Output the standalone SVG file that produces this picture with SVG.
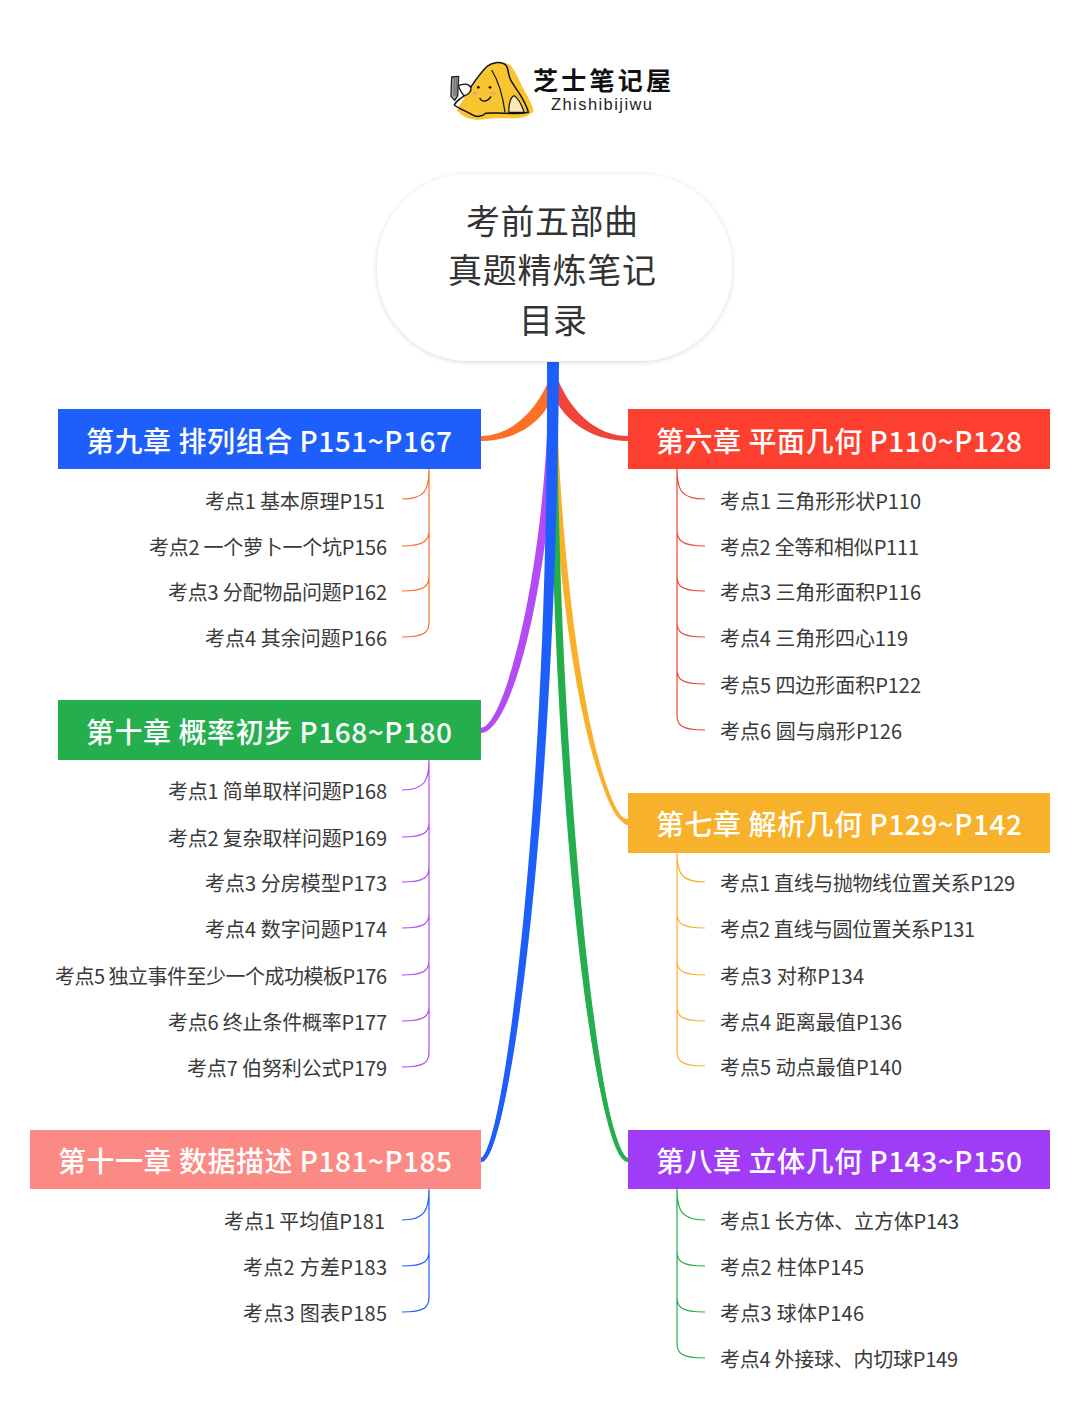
<svg xmlns="http://www.w3.org/2000/svg" width="1080" height="1404" viewBox="0 0 1080 1404">
<defs>
<filter id="sh" x="-10%" y="-10%" width="120%" height="125%"><feDropShadow dx="0" dy="1" stdDeviation="2.5" flood-color="#000" flood-opacity="0.16"/></filter>
</defs>
<style>
text{font-family:"Noto Sans CJK SC","Noto Sans",sans-serif}
.t{font-size:28px;fill:#fff;font-weight:500}
.s{font-size:20px;fill:#3a3a3a}
.r{font-size:34px;fill:#333;text-anchor:middle}
.b{fill:none;stroke-width:1.2}
.m{fill-rule:nonzero;stroke-width:4.5}
.o{stroke:#fb6f26}.p{stroke:#b44cf5}.bl{stroke:#1e5ffb}.re{stroke:#f0443a}.y{stroke:#f8b12a}.g{stroke:#25ae4e}
</style>
<rect width="1080" height="1404" fill="#fff"/>
<g id="logo" transform="translate(445 55) scale(.3333)">
<path d="M35 165C55 130 80 100 115 45C140 22 175 18 195 30C215 50 225 85 240 110C252 130 262 150 266 168C250 188 225 190 200 190C170 190 145 188 125 192C95 198 60 195 35 165Z" fill="#f8c531"/>
<path d="M75 100C88 80 105 55 125 35C145 20 170 18 182 30C192 40 188 55 195 70C200 85 218 105 232 130C240 145 248 160 250 172C225 178 205 175 185 175C160 175 140 172 122 175C112 185 95 188 80 178C62 168 40 160 28 150C35 135 50 130 58 122" fill="none" stroke="#111" stroke-width="4.5" stroke-linejoin="round" stroke-linecap="round"/>
<path d="M40 92C55 85 72 85 78 98C80 110 68 120 58 122C50 115 45 105 40 92Z" fill="#fff" stroke="#111" stroke-width="4"/>
<path d="M20 66L41 64L38 122L29 136L18 124Z" fill="#a8a8a8" stroke="#222" stroke-width="4" stroke-linejoin="round"/>
<path d="M28 68L27 122M34 68L33 122" fill="none" stroke="#333" stroke-width="2"/>
<path d="M140 45C158 75 172 110 180 172" fill="none" stroke="#111" stroke-width="3.5"/>
<path d="M192 172C190 145 198 125 208 122C222 130 230 150 238 172Z" fill="#f7e8b4" stroke="#111" stroke-width="3.5"/>
<circle cx="100" cy="97" r="4" fill="#111"/><circle cx="135" cy="97" r="4" fill="#111"/>
<ellipse cx="91" cy="115" rx="8" ry="4.5" fill="#f4a07a"/><ellipse cx="144" cy="115" rx="8" ry="4.5" fill="#f4a07a"/>
<path d="M104 129C110 142 128 142 138 124" fill="none" stroke="#111" stroke-width="4"/>
</g>
<text x="533" y="90" font-size="25" font-weight="700" fill="#111" textLength="138">芝士笔记屋</text>
<text x="551" y="110" font-size="16.5" fill="#222" textLength="101" style="font-family:'Liberation Sans',sans-serif">Zhishibijiwu</text>
<g id="connectors">
<path d="M550 362C552 620 595 819 628 819V825C603 825 559 620 556 362Z" fill="#f8b12a"/>
<path d="M553 362C556 620 600 822 628 822" class="b m y" style="stroke-width:4"/>
<path d="M550 362C550 800 594 1158 628 1158V1162C604 1163 557 800 557 362Z" fill="#25ae4e"/>
<path d="M553 362C553 820 600 1160 628 1160" class="b m g"/>
<path d="M549 362C549 560 505 727 481 728V733C514 733 557 560 557 362Z" fill="#b44cf5"/>
<path d="M553 362C553 560 510 730 481 730" class="b m p"/>
<path d="M552 372C538 412 510 436 481 436V441C518 441 547 420 556 388Z" fill="#fb6f26"/>
<path d="M555 372C569 412 597 436 628 436V441C592 441 560 420 551 388Z" fill="#f0443a"/>
<path d="M547 362C549 820 501 1157 481 1158V1162C509 1163 556 820 559 362Z" fill="#1e5ffb"/>
<path d="M553 362C553 820 505 1160 481 1160" class="b m bl"/>
<g class="b o"><path d="M429 469C429 490 425 499 402 499M429 469V530C429 540 425 546 402 546M429 530V576C429 586 425 591 402 591M429 576V622C429 632 425 637 402 637"/></g>
<g class="b p"><path d="M429 760C429 780 425 790 402 790M429 760V822C429 832 425 837 402 837M429 822V867C429 877 425 882 402 882M429 867V913C429 923 425 928 402 928M429 913V960C429 970 425 975 402 975M429 960V1006C429 1016 425 1021 402 1021M429 1006V1052C429 1062 425 1067 402 1067"/></g>
<g class="b bl"><path d="M429 1189C429 1210 425 1220 402 1220M429 1189V1251C429 1261 425 1266 402 1266M429 1251V1297C429 1307 425 1312 402 1312"/></g>
<g class="b re"><path d="M677 469C677 490 681 499 705 499M677 469V530C677 540 681 546 705 546M677 530V576C677 586 681 591 705 591M677 576V622C677 632 681 637 705 637M677 622V669C677 679 681 684 705 684M677 669V715C677 725 681 730 705 730"/></g>
<g class="b y"><path d="M677 853C677 873 681 882 705 882M677 853V913C677 923 681 928 705 928M677 913V960C677 970 681 975 705 975M677 960V1006C677 1016 681 1021 705 1021M677 1006V1051C677 1061 681 1066 705 1066"/></g>
<g class="b g"><path d="M677 1189C677 1210 681 1220 705 1220M677 1189V1251C677 1261 681 1266 705 1266M677 1251V1297C677 1307 681 1312 705 1312M677 1297V1343C677 1353 681 1358 705 1358"/></g>
</g>
<g id="root"><rect x="377" y="174" width="355" height="187" rx="92" ry="92" fill="#fff" filter="url(#sh)"/>
<text class="r" x="552" y="234" textLength="172">考前五部曲</text><text class="r" x="552" y="283" textLength="208">真题精炼笔记</text><text class="r" x="553" y="333">目录</text></g>
<g id="ch9"><rect x="58" y="409" width="423" height="60" fill="#1e5ffb"/><text class="t" x="86" y="452" textLength="366">第九章 排列组合 P151~P167</text>
<text class="s" x="205" y="509" textLength="180">考点1 基本原理P151</text><text class="s" x="149" y="555" textLength="238">考点2 一个萝卜一个坑P156</text><text class="s" x="168" y="600" textLength="219">考点3 分配物品问题P162</text><text class="s" x="205" y="646" textLength="182">考点4 其余问题P166</text></g>
<g id="ch10"><rect x="58" y="700" width="423" height="60" fill="#25ae4e"/><text class="t" x="86" y="743" textLength="366">第十章 概率初步 P168~P180</text>
<text class="s" x="168" y="799" textLength="219">考点1 简单取样问题P168</text><text class="s" x="168" y="846" textLength="219">考点2 复杂取样问题P169</text><text class="s" x="205" y="891" textLength="182">考点3 分房模型P173</text><text class="s" x="205" y="937" textLength="182">考点4 数字问题P174</text><text class="s" x="55" y="984" textLength="332">考点5 独立事件至少一个成功模板P176</text><text class="s" x="168" y="1030" textLength="219">考点6 终止条件概率P177</text><text class="s" x="187" y="1076" textLength="200">考点7 伯努利公式P179</text></g>
<g id="ch11"><rect x="30" y="1130" width="451" height="59" fill="#fb8a84"/><text class="t" x="58" y="1172" textLength="394">第十一章 数据描述 P181~P185</text>
<text class="s" x="224" y="1229" textLength="161">考点1 平均值P181</text><text class="s" x="243" y="1275" textLength="144">考点2 方差P183</text><text class="s" x="243" y="1321" textLength="144">考点3 图表P185</text></g>
<g id="ch6"><rect x="628" y="409" width="422" height="60" fill="#fc3f2e"/><text class="t" x="656" y="452" textLength="366">第六章 平面几何 P110~P128</text>
<text class="s" x="720" y="509" textLength="201">考点1 三角形形状P110</text><text class="s" x="720" y="555" textLength="199">考点2 全等和相似P111</text><text class="s" x="720" y="600" textLength="201">考点3 三角形面积P116</text><text class="s" x="720" y="646" textLength="188">考点4 三角形四心119</text><text class="s" x="720" y="693" textLength="201">考点5 四边形面积P122</text><text class="s" x="720" y="739" textLength="182">考点6 圆与扇形P126</text></g>
<g id="ch7"><rect x="628" y="793" width="422" height="60" fill="#f8b12a"/><text class="t" x="656" y="835" textLength="366">第七章 解析几何 P129~P142</text>
<text class="s" x="720" y="891" textLength="295">考点1 直线与抛物线位置关系P129</text><text class="s" x="720" y="937" textLength="255">考点2 直线与圆位置关系P131</text><text class="s" x="720" y="984" textLength="144">考点3 对称P134</text><text class="s" x="720" y="1030" textLength="182">考点4 距离最值P136</text><text class="s" x="720" y="1075" textLength="182">考点5 动点最值P140</text></g>
<g id="ch8"><rect x="628" y="1130" width="422" height="59" fill="#a03cf5"/><text class="t" x="656" y="1172" textLength="366">第八章 立体几何 P143~P150</text>
<text class="s" x="720" y="1229" textLength="239">考点1 长方体、立方体P143</text><text class="s" x="720" y="1275" textLength="144">考点2 柱体P145</text><text class="s" x="720" y="1321" textLength="144">考点3 球体P146</text><text class="s" x="720" y="1367" textLength="238">考点4 外接球、内切球P149</text></g>
</svg>
